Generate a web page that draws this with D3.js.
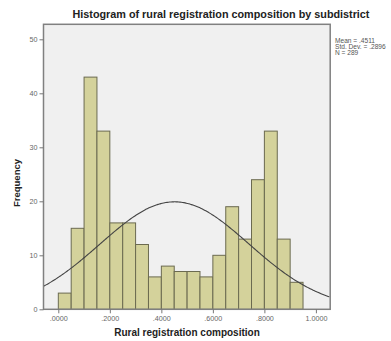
<!DOCTYPE html>
<html><head><meta charset="utf-8">
<script src="https://cdn.jsdelivr.net/npm/d3@7"></script>
<style>body{margin:0;background:#fff}svg{display:block}</style>
</head><body><svg id="c" width="391" height="341"></svg>
<script>
const binStarts = [0,0.05,0.10,0.15,0.20,0.25,0.30,0.35,0.40,0.45,0.50,0.55,0.60,0.65,0.70,0.75,0.80,0.85,0.90];
const counts = [3,15,43,33,16,16,12,6,8,7,7,6,10,19,13,24,33,13,5];
const binWidth = 0.05;
const xTicks = [0,0.2,0.4,0.6,0.8,1.0];
const xTickLabels = [".0000",".2000",".4000",".6000",".8000","1.0000"];
const yTicks = [0,10,20,30,40,50];
const stats = {mean:0.4511, sd:0.2896, n:289};
const statLines = ["Mean = .4511","Std. Dev. = .2896","N = 289"];

const svg = d3.select("#c");
const L=43.5, R=330.2, T=24.3, B=309.3;
const x = d3.scaleLinear().domain([-0.0575,1.0555]).range([L,R]);
const y = d3.scaleLinear().domain([0,52.78]).range([B,T]);

svg.append("rect").attr("x",L).attr("y",T).attr("width",R-L).attr("height",B-T).attr("fill","#f0f0f0");

svg.append("g").selectAll("rect").data(counts).join("rect")
  .attr("x",(d,i)=>x(binStarts[i]))
  .attr("width",(d,i)=>x(binStarts[i]+binWidth)-x(binStarts[i]))
  .attr("y",d=>y(d)).attr("height",d=>y(0)-y(d))
  .attr("fill","#d4d29b").attr("stroke","#6b6a50").attr("stroke-width",1);

// normal curve from stats
const xs = d3.range(x.domain()[0], x.domain()[1]+0.0001, 0.005);
const pdf = v => stats.n*binWidth/(stats.sd*Math.sqrt(2*Math.PI))*Math.exp(-0.5*((v-stats.mean)/stats.sd)**2);
svg.append("path").datum(xs).attr("fill","none").attr("stroke","#444").attr("stroke-width",1.1)
  .attr("d",d3.line().x(v=>x(v)).y(v=>y(pdf(v))).curve(d3.curveBasis));

svg.append("rect").attr("x",L).attr("y",T).attr("width",R-L).attr("height",B-T)
  .attr("fill","none").attr("stroke","#808080").attr("stroke-width",1.5);

// axes
const ya = svg.append("g").attr("transform",`translate(${L},0)`)
  .call(d3.axisLeft(y).tickValues(yTicks).tickSize(4).tickPadding(2));
ya.select(".domain").remove();
ya.selectAll("line").attr("stroke","#777");
ya.selectAll("text").attr("font-family","Liberation Sans, Arial").attr("font-size",7.2).attr("fill","#666");

const xa = svg.append("g").attr("transform",`translate(0,${B})`)
  .call(d3.axisBottom(x).tickValues(xTicks).tickFormat((d,i)=>xTickLabels[i]).tickSize(4).tickPadding(3));
xa.select(".domain").remove();
xa.selectAll("line").attr("stroke","#777");
xa.selectAll("text").attr("font-family","Liberation Sans, Arial").attr("font-size",7.2).attr("fill","#666");

svg.append("text").attr("x",221).attr("y",17.5).attr("text-anchor","middle")
  .attr("font-family","Liberation Sans, Arial").attr("font-weight","bold").attr("font-size",10.8).attr("fill","#222")
  .text("Histogram of rural registration composition by subdistrict");
svg.append("text").attr("x",187).attr("y",336).attr("text-anchor","middle")
  .attr("font-family","Liberation Sans, Arial").attr("font-weight","bold").attr("font-size",10).attr("fill","#222")
  .text("Rural registration composition");
svg.append("text").attr("transform","translate(20,183) rotate(-90)").attr("text-anchor","middle")
  .attr("font-family","Liberation Sans, Arial").attr("font-weight","bold").attr("font-size",9.5).attr("fill","#222")
  .text("Frequency");

svg.append("g").selectAll("text").data(statLines).join("text")
  .attr("x",335).attr("y",(d,i)=>43+i*6)
  .attr("font-family","Liberation Sans, Arial").attr("font-size",6.6).attr("fill","#555")
  .text(d=>d);
</script></body></html>
